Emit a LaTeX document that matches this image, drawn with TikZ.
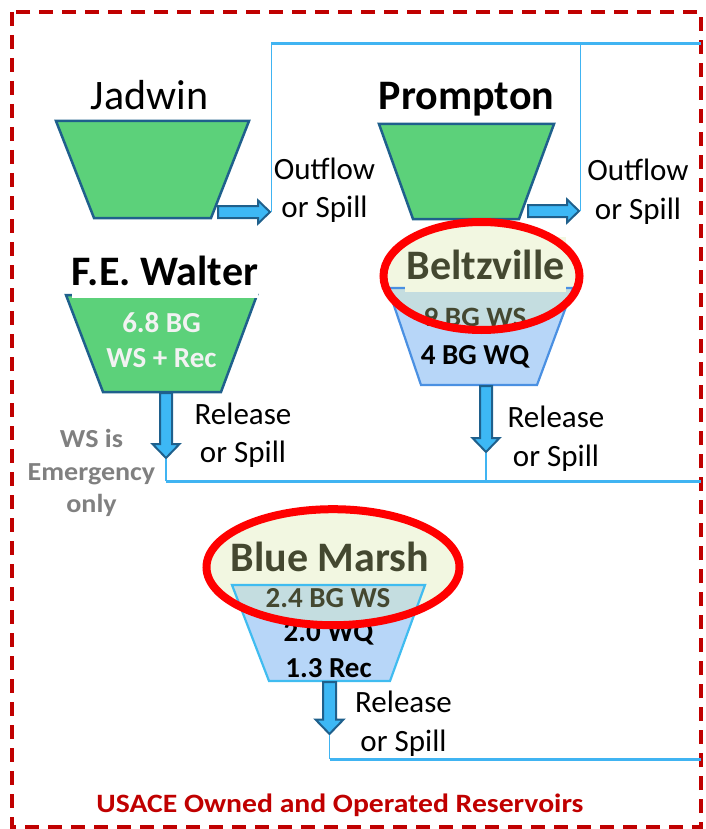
\documentclass[tikz,border=0pt]{standalone}
\usepackage{fontspec}
\setmainfont{Carlito}
\usetikzlibrary{shapes.arrows}
\definecolor{resgreen}{RGB}{92,209,122}
\definecolor{resedge}{RGB}{31,96,140}
\definecolor{arrowfill}{RGB}{61,184,245}
\definecolor{flowline}{RGB}{64,180,242}
\definecolor{wqfill}{RGB}{183,214,248}
\definecolor{beltedge}{RGB}{74,144,226}
\definecolor{bmedge}{RGB}{64,188,240}
\definecolor{hlfill}{RGB}{242,247,225}
\definecolor{wsfill}{RGB}{196,221,224}
\definecolor{olivetext}{RGB}{68,72,48}
\definecolor{borderred}{RGB}{192,0,0}
\definecolor{greytext}{RGB}{128,128,128}
\begin{document}
\begin{tikzpicture}[x=1pt,y=-1pt,
  title/.style={font=\fontsize{42}{50}\selectfont, anchor=base, inner sep=0pt},
  boldtitle/.style={title, font=\fontsize{42}{50}\selectfont\bfseries},
  flowtext/.style={font=\fontsize{31}{38.5}\selectfont, align=center, inner sep=0pt},
  volume/.style={font=\fontsize{29}{35.5}\selectfont\bfseries, inner sep=0pt},
  greenres/.style={fill=resgreen, draw=resedge, line width=2.5pt, line join=miter},
  blockarrow/.style={single arrow, draw=resedge, fill=arrowfill, line width=2pt,
    inner xsep=0pt, inner ysep=5pt, single arrow head extend=5.5pt,
    single arrow tip angle=88, minimum width=0pt},
  downarrow/.style={blockarrow, rotate=-90, single arrow head extend=7.5pt},
  flowv/.style={draw=flowline, line width=1.8pt},
  flowh/.style={draw=flowline, line width=3pt},
  highlight/.style={draw=red, line width=8pt}
]
\useasboundingbox (0,0) rectangle (705,829);

% ---------- border ----------
\draw[borderred, line width=4pt, dash pattern=on 14pt off 9pt] (12,12) rectangle (701,827);

% ---------- Jadwin ----------
\node[title] (jadT) at (149.5,110) {Jadwin};
\draw[greenres] (56,121) -- (249,121) -- (211,218) -- (94,218) -- cycle;
\node[blockarrow, anchor=tail, minimum height=52pt] (jadA) at (217,212) {};
\node[flowtext] (jadF) at (324.5,190) {Outflow\\or Spill};

% ---------- Prompton ----------
\node[boldtitle] (proT) at (466.5,110) {Prompton};
\draw[greenres] (379,124) -- (554,124) -- (519,219) -- (413,219) -- cycle;
\node[blockarrow, anchor=tail, minimum height=51pt] (proA) at (527,211) {};
\node[flowtext] (proF) at (638,191.5) {Outflow\\or Spill};

% top collector line
\coordinate (topR) at (701,44);
\draw[flowv] (jadA.tip) -- (jadA.tip |- topR);
\draw[flowh] (jadA.tip |- topR) -- (topR);
\draw[flowv] (proA.tip) -- (proA.tip |- topR);

% ---------- F.E. Walter ----------
\draw[greenres] (66,295) -- (257,295) -- (221,392) -- (103,392) -- cycle;
\node[boldtitle, fill=white, inner ysep=13pt, inner xsep=0pt] (fewT) at (165,285) {F.E. Walter};
\node[volume, align=center, text=white!95!black] (fewV) at (161.5,340) {6.8 BG\\WS + Rec};
\node[downarrow, anchor=tail, minimum height=65pt] (fewA) at (166,392) {};
\node[flowtext] (fewF) at (243,435) {Release\\or Spill};
\node[font=\fontsize{26}{32.5}\selectfont\bfseries, text=greytext, align=center, inner sep=0pt] (fewN) at (91.5,473) {\scalebox{1.08}[1]{WS is}\\\scalebox{1.08}[1]{Emergency}\\\scalebox{1.08}[1]{only}};

% ---------- Beltzville ----------
\coordinate (beltC) at (481.5,276);
\fill[wqfill] (388,288) -- (573,288) -- (537,385) -- (421,385) -- cycle;
\fill[hlfill] (beltC) ellipse [x radius=98pt, y radius=54pt];
\begin{scope}
  \clip (beltC) ellipse [x radius=98pt, y radius=54pt];
  \fill[wsfill] (388,288) -- (573,288) -- (537,385) -- (421,385) -- cycle;
\end{scope}
\draw[draw=beltedge, line width=2.2pt] (388,288) -- (573,288) -- (537,385) -- (421,385) -- cycle;
\node[boldtitle, text=olivetext, fill=hlfill, inner ysep=13pt, inner xsep=2pt] (beltT) at (485.5,279) {Beltzville};
\node[volume, anchor=base, text=olivetext, font=\fontsize{28}{34}\selectfont\bfseries] (beltWS) at (475,326) {\scalebox{1.04}[1]{9 BG WS}};
\node[volume, anchor=base] (beltWQ) at (475,364) {4 BG WQ};
\draw[highlight] (beltC) ellipse [x radius=98pt, y radius=54pt];
\node[downarrow, anchor=tail, minimum height=66pt] (beltA) at (486,385) {};
\node[flowtext] (beltF) at (556,438.5) {Release\\or Spill};

% middle collector line
\coordinate (midR) at (701,481);
\draw[flowv] (fewA.tip) -- (fewA.tip |- midR);
\draw[flowh] (fewA.tip |- midR) -- (midR);
\draw[flowv] (beltA.tip) -- (beltA.tip |- midR);

% ---------- Blue Marsh ----------
\coordinate (bmC) at (333,567.2);
\fill[wqfill] (232,585) -- (425,585) -- (390,681) -- (269,681) -- cycle;
\fill[hlfill] (bmC) ellipse [x radius=126.5pt, y radius=58pt];
\begin{scope}
  \clip (bmC) ellipse [x radius=126.5pt, y radius=58pt];
  \fill[wsfill] (232,585) -- (425,585) -- (390,681) -- (269,681) -- cycle;
\end{scope}
\draw[draw=bmedge, line width=2.2pt] (232,585) -- (425,585) -- (390,681) -- (269,681) -- cycle;
\node[boldtitle, text=olivetext] (bmT) at (330,571) {Blue Marsh};
\node[volume, anchor=base, text=olivetext] (bmWS) at (328,607) {2.4 BG WS};
\node[volume, align=center] (bmV) at (328.5,650) {2.0 WQ\\1.3 Rec};
\draw[highlight] (bmC) ellipse [x radius=126.5pt, y radius=58pt];
\node[downarrow, anchor=tail, minimum height=52pt, inner ysep=5.5pt] (bmA) at (329.5,681) {};
\node[flowtext] (bmF) at (403.5,723.5) {Release\\or Spill};

% bottom collector line
\coordinate (botR) at (701,759);
\draw[flowv] (bmA.tip) -- (bmA.tip |- botR);
\draw[flowh] (bmA.tip |- botR) -- (botR);

% ---------- caption ----------
\node[font=\fontsize{26.5}{30}\selectfont\bfseries, text=borderred, anchor=base, inner sep=0pt] (cap) at (340,812) {\scalebox{1.12}[1]{USACE Owned and Operated Reservoirs}};
\end{tikzpicture}
\end{document}
